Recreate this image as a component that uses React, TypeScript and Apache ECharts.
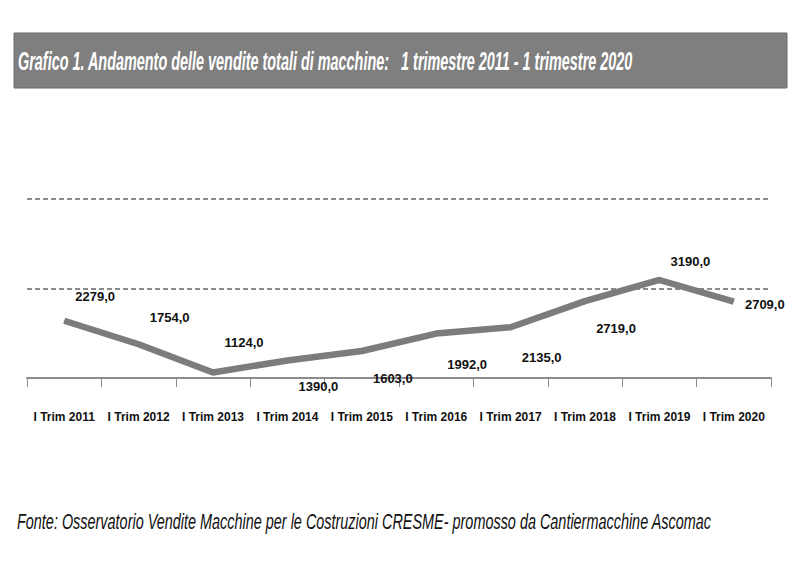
import React, { useEffect, useRef } from "react";
import * as echarts from "echarts";

const categories = [
  "I Trim 2011", "I Trim 2012", "I Trim 2013", "I Trim 2014", "I Trim 2015",
  "I Trim 2016", "I Trim 2017", "I Trim 2018", "I Trim 2019", "I Trim 2020",
];
const sales = [2279, 1754, 1124, 1390, 1603, 1992, 2135, 2719, 3190, 2709];
const labelDy = [-24, -27, -30, 26, 27, 31, 30, 27, -18, 3];

const titleText = "Grafico 1. Andamento delle vendite totali di macchine:   1 trimestre 2011 - 1 trimestre 2020";
const sourceText = "Fonte: Osservatorio Vendite Macchine per le Costruzioni CRESME- promosso da Cantiermacchine Ascomac";

const SANS = '"Liberation Sans", Arial, sans-serif';

export default function App() {
  const ref = useRef<HTMLDivElement>(null);
  useEffect(() => {
    document.body.style.margin = "0";
    if (!ref.current) return;
    const chart = echarts.init(ref.current, undefined, { renderer: "svg" });
    chart.setOption({
      animation: false,
      backgroundColor: "#ffffff",
      grid: { left: 27, right: 29, top: 199, bottom: 189, containLabel: false },
      xAxis: {
        type: "category",
        data: categories,
        boundaryGap: true,
        axisLine: { show: true, lineStyle: { color: "#8c8c8c", width: 2 } },
        axisTick: { show: true, length: 9, lineStyle: { color: "#8c8c8c", width: 1 } },
        axisLabel: {
          interval: 0,
          margin: 33,
          color: "#111",
          fontFamily: SANS,
          fontWeight: "bold",
          fontSize: 12,
        },
      },
      yAxis: {
        type: "value",
        min: 1000,
        max: 5000,
        interval: 2000,
        axisLabel: { show: false },
        axisLine: { show: false },
        axisTick: { show: false },
        splitLine: { show: true, lineStyle: { type: [5, 3], color: "#666", width: 1.5 } },
      },
      series: [
        {
          type: "line",
          data: sales.map((v, i) => ({
            value: v,
            label: { offset: [31, labelDy[i]] },
          })),
          symbol: "circle",
          symbolSize: 1,
          itemStyle: { color: "#7c7c7c" },
          lineStyle: { color: "#7c7c7c", width: 6.5 },
          label: {
            show: true,
            position: "inside",
            color: "#111",
            fontFamily: SANS,
            fontWeight: "bold",
            fontSize: 13,
            formatter: (p: any) => Number(p.value).toFixed(1).replace(".", ","),
          },
          z: 3,
        },
      ],
      graphic: [
        {
          type: "rect",
          shape: { x: 14, y: 33, width: 773, height: 55 },
          style: { fill: "#7f7f7f", stroke: "#6a6a6a", lineWidth: 1 },
          z: 1,
        },
        {
          type: "text",
          x: 18,
          y: 61,
          scaleX: 0.577,
          style: {
            text: titleText,
            fill: "#ffffff",
            fontFamily: SANS,
            fontWeight: "bold",
            fontStyle: "italic",
            fontSize: 25,
            verticalAlign: "middle",
            align: "left",
          },
          z: 2,
        },
        {
          type: "text",
          x: 17,
          y: 521,
          scaleX: 0.656,
          style: {
            text: sourceText,
            fill: "#111",
            fontFamily: SANS,
            fontStyle: "italic",
            fontSize: 22,
            verticalAlign: "middle",
            align: "left",
          },
          z: 2,
        },
      ],
    });
    return () => chart.dispose();
  }, []);
  return <div ref={ref} style={{ width: 800, height: 567 }} />;
}
